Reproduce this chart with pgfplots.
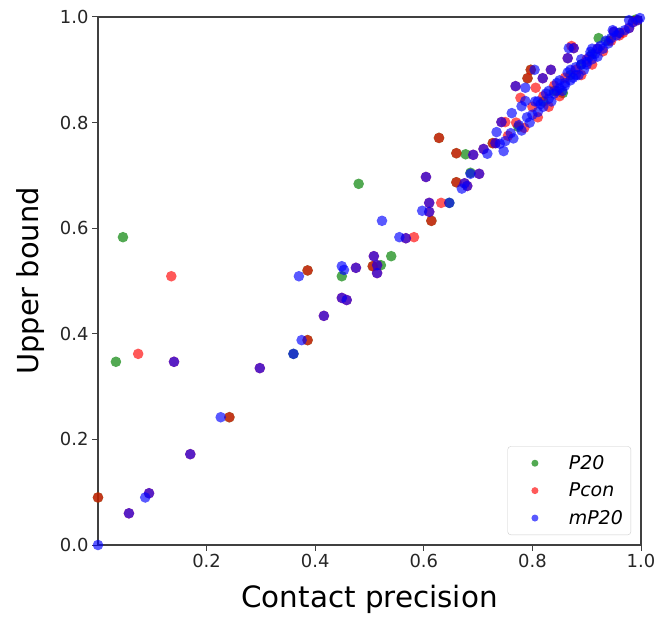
\documentclass[border=0pt]{standalone}
\usepackage{fontspec}
\setmainfont{DejaVu Sans}
\usepackage{pgfplots}
\usepackage{pgfplotstable}
\pgfplotsset{compat=1.18}
\definecolor{mgreen}{rgb}{0,0.5,0}
\definecolor{mred}{rgb}{1,0,0}
\definecolor{mblue}{rgb}{0,0,1}
\pgfplotsset{myleg/.style={legend image code/.code={\path (0cm,0cm) (1.86cm,0cm); \draw[##1] plot coordinates {(0.74cm,0cm)};}}}
\pgfplotstableread{
x y
0.0 0.09
0.033 0.347
0.046 0.583
0.242 0.242
0.36 0.362
0.386 0.388
0.386 0.52
0.449 0.509
0.48 0.684
0.506 0.528
0.521 0.53
0.54 0.547
0.614 0.614
0.628 0.771
0.647 0.648
0.66 0.687
0.66 0.742
0.677 0.74
0.686 0.705
0.727 0.761
0.774 0.792
0.791 0.884
0.797 0.9
0.82 0.84
0.84 0.86
0.856 0.856
0.87 0.89
0.89 0.91
0.91 0.93
0.922 0.96
0.94 0.955
0.96 0.97
0.99 0.995
}\ptwenty
\pgfplotstableread{
x y
0.0 0.09
0.057 0.06
0.074 0.362
0.094 0.098
0.135 0.509
0.14 0.347
0.17 0.172
0.242 0.242
0.298 0.335
0.386 0.388
0.386 0.52
0.416 0.434
0.449 0.468
0.458 0.464
0.475 0.525
0.506 0.528
0.508 0.547
0.514 0.515
0.514 0.53
0.567 0.581
0.582 0.583
0.604 0.697
0.61 0.631
0.61 0.648
0.614 0.614
0.628 0.771
0.632 0.648
0.66 0.687
0.66 0.742
0.675 0.685
0.68 0.68
0.691 0.739
0.702 0.703
0.71 0.75
0.727 0.761
0.732 0.761
0.743 0.801
0.75 0.801
0.755 0.775
0.769 0.869
0.77 0.80
0.778 0.847
0.785 0.79
0.791 0.884
0.797 0.9
0.80 0.83
0.806 0.866
0.81 0.81
0.819 0.884
0.82 0.85
0.83 0.83
0.834 0.9
0.84 0.87
0.85 0.85
0.86 0.885
0.865 0.922
0.872 0.945
0.876 0.941
0.88 0.9
0.89 0.89
0.90 0.92
0.91 0.91
0.92 0.94
0.93 0.935
0.945 0.955
0.95 0.972
0.96 0.965
0.967 0.97
0.978 0.979
0.985 0.99
0.993 0.994
}\pcon
\pgfplotstableread{
x y
0.0 0.0
0.057 0.06
0.087 0.09
0.094 0.098
0.14 0.347
0.17 0.172
0.226 0.242
0.298 0.335
0.36 0.362
0.37 0.509
0.375 0.388
0.416 0.434
0.449 0.468
0.449 0.528
0.453 0.521
0.458 0.464
0.475 0.525
0.508 0.547
0.514 0.515
0.514 0.53
0.523 0.614
0.555 0.583
0.567 0.581
0.597 0.633
0.604 0.697
0.61 0.631
0.61 0.648
0.647 0.648
0.67 0.675
0.675 0.685
0.68 0.68
0.686 0.703
0.691 0.739
0.702 0.703
0.71 0.75
0.717 0.741
0.732 0.761
0.734 0.782
0.74 0.76
0.743 0.801
0.747 0.746
0.75 0.765
0.76 0.78
0.762 0.818
0.765 0.77
0.769 0.869
0.775 0.795
0.78 0.831
0.78 0.785
0.787 0.841
0.787 0.866
0.79 0.81
0.795 0.80
0.80 0.815
0.804 0.9
0.805 0.84
0.81 0.82
0.81 0.84
0.815 0.835
0.819 0.884
0.82 0.83
0.825 0.855
0.83 0.845
0.83 0.86
0.834 0.9
0.835 0.84
0.84 0.855
0.845 0.875
0.845 0.86
0.85 0.865
0.85 0.88
0.855 0.86
0.86 0.875
0.86 0.87
0.865 0.895
0.865 0.922
0.867 0.941
0.87 0.88
0.87 0.9
0.875 0.885
0.876 0.941
0.88 0.905
0.88 0.89
0.885 0.89
0.89 0.91
0.89 0.92
0.895 0.9
0.90 0.915
0.90 0.91
0.905 0.925
0.907 0.934
0.91 0.92
0.91 0.94
0.915 0.93
0.92 0.925
0.92 0.94
0.925 0.945
0.93 0.94
0.935 0.955
0.94 0.95
0.945 0.96
0.948 0.975
0.95 0.972
0.955 0.965
0.96 0.97
0.97 0.975
0.978 0.979
0.978 0.994
0.985 0.99
0.994 0.994
0.998 0.998
}\mptwenty
\begin{document}
\begin{tikzpicture}
\begin{axis}[
  name=ax,
  scale only axis,
  width=543bp, height=528bp,
  xmin=0, xmax=1, ymin=0, ymax=1,
  xtick={0.2,0.4,0.6,0.8,1.0},
  ytick={0,0.2,0.4,0.6,0.8,1.0},
  tick align=outside,
  tick pos=left,
  major tick length=6bp,
  every tick/.style={black!75, line width=1bp},
  axis line style={black!75, line width=1.2bp},
  /pgf/number format/assume math mode=true,
  xticklabel style={/pgf/number format/fixed, /pgf/number format/fixed zerofill, /pgf/number format/precision=1},
  yticklabel style={/pgf/number format/fixed, /pgf/number format/fixed zerofill, /pgf/number format/precision=1},
  tick label style={font=\fontsize{18}{20}\selectfont, text=black!85},
  xlabel={Contact precision},
  ylabel={Upper bound},
  every axis x label/.style={at={(rel axis cs:0.5,0)}, yshift=-54bp, anchor=center, font=\fontsize{29.5}{33}\selectfont},
  every axis y label/.style={at={(rel axis cs:0,0.5)}, xshift=-67bp, rotate=90, anchor=center, font=\fontsize{29}{33}\selectfont},
  clip mode=individual,
  legend style={at={(rel axis cs:1,0)}, anchor=south east, xshift=-10bp, yshift=10bp,
    draw=black!20, rounded corners=3bp, fill=white, fill opacity=0.8, text opacity=1,
    font=\fontsize{19}{23}\selectfont\itshape, row sep=8bp, inner xsep=6bp, inner ysep=7bp,
    /tikz/every odd column/.append style={column sep=0bp}},
  legend cell align=left,
]
\addplot[only marks, myleg, mark=*, mark size=5.3bp, color=mgreen, mark options={solid, fill=mgreen, fill opacity=0.68, draw opacity=0}, legend image post style={mark size=3.5bp}] table[x=x,y=y] {\ptwenty};
\addlegendentry{P20}
\addplot[only marks, myleg, mark=*, mark size=5.3bp, color=mred, mark options={solid, fill=mred, fill opacity=0.65, draw opacity=0}, legend image post style={mark size=3.5bp}] table[x=x,y=y] {\pcon};
\addlegendentry{Pcon}
\addplot[only marks, myleg, mark=*, mark size=5.3bp, color=mblue, mark options={solid, fill=mblue, fill opacity=0.65, draw opacity=0}, legend image post style={mark size=3.5bp}] table[x=x,y=y] {\mptwenty};
\addlegendentry{mP20}
\end{axis}
\path ([shift={(-98bp,-76bp)}]ax.south west) rectangle ([shift={(18bp,17bp)}]ax.north east);
\end{tikzpicture}
\end{document}
